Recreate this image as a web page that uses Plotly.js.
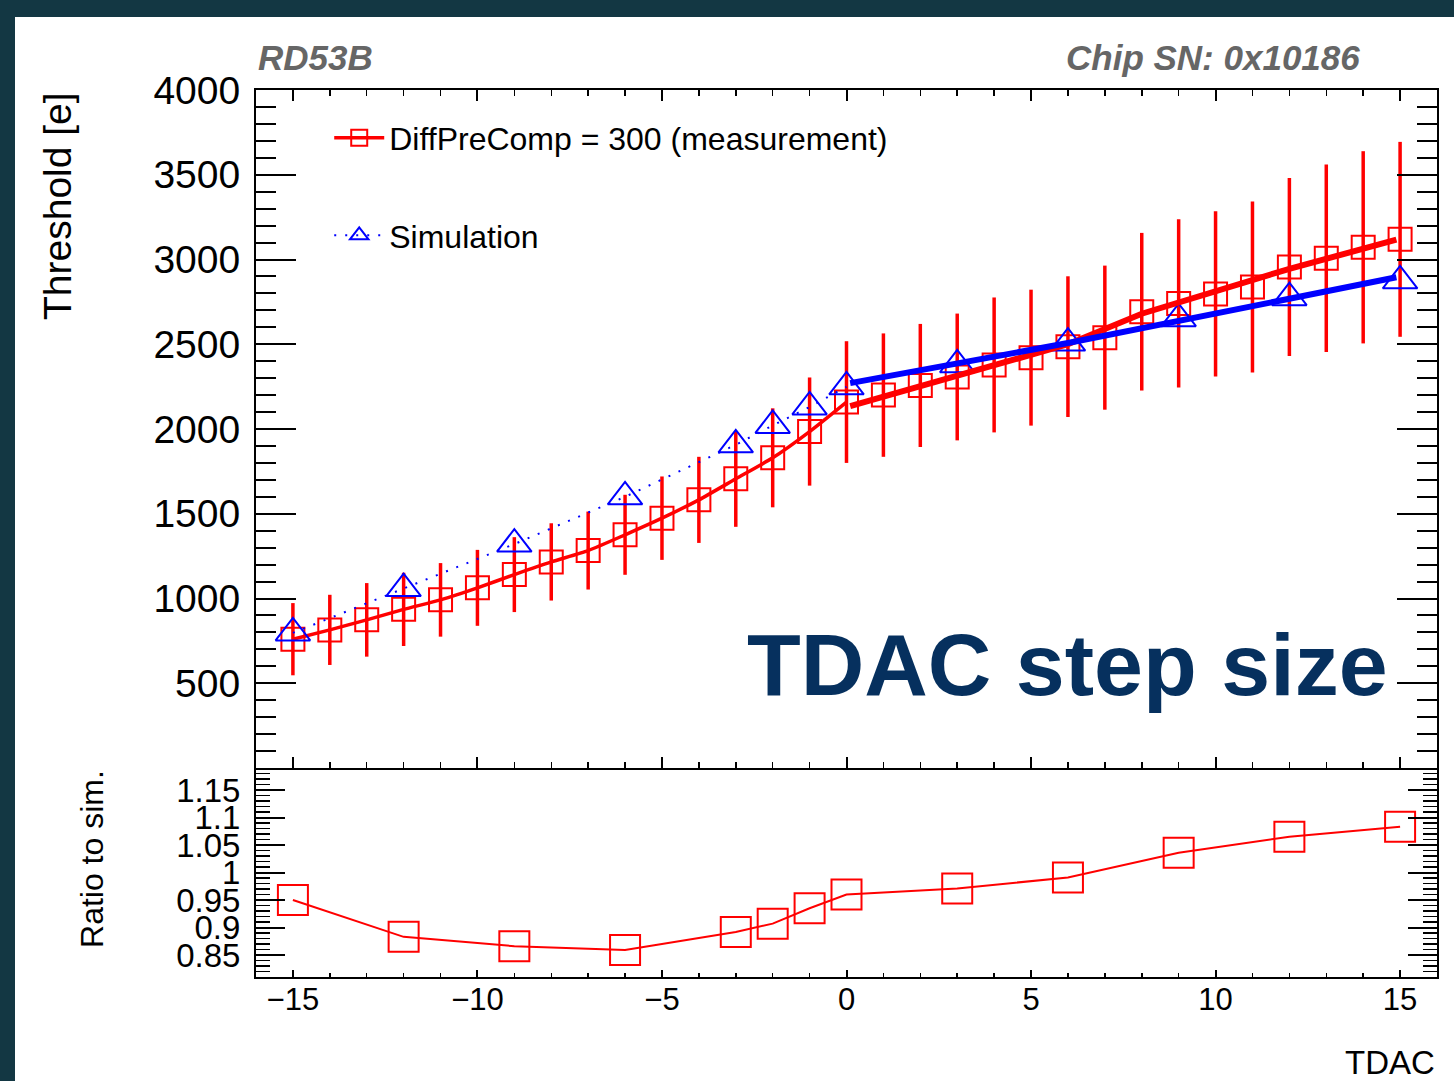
<!DOCTYPE html>
<html>
<head>
<meta charset="utf-8">
<script src="https://cdn.plot.ly/plotly-3.0.1.min.js"></script>
<style>
html,body{margin:0;padding:0;background:#133743;width:1454px;height:1081px;overflow:hidden;}
#chart{position:absolute;left:15px;top:17px;width:1439px;height:1064px;background:#ffffff;}
</style>
</head>
<body>
<div id="chart"></div>
<script>
// ---- data ----
const tdac = [-15,-14,-13,-12,-11,-10,-9,-8,-7,-6,-5,-4,-3,-2,-1,0,1,2,3,4,5,6,7,8,9,10,11,12,13,14,15];
const threshold = [760,815,874,936,992,1063,1141,1216,1283,1376,1474,1582,1706,1830,1985,2159,2200,2257,2307,2378,2421,2486,2539,2692,2741,2797,2838,2956,3007,3072,3119];
const thresholdErr = [213,207,217,216,217,224,221,228,230,236,246,254,283,292,319,359,364,363,374,398,401,415,425,465,496,487,504,525,553,567,575];

const simTdac = [-15,-12,-9,-6,-3,-2,-1,0,3,6,9,12,15];
const simThreshold = [797,1059,1321,1600,1907,2021,2130,2249,2379,2507,2651,2775,2874];

const ratioTdac = [-15,-12,-9,-6,-3,-2,-1,0,3,6,9,12,15];
const ratioToSim = [0.950,0.883,0.866,0.859,0.892,0.907,0.935,0.960,0.971,0.991,1.036,1.065,1.083];

const measFitX = [0.1,6,8,12,14.9];
const measFitY = [2135,2500,2680,2945,3117];
const simFitX = [0.1,6,14.9];
const simFitY = [2271,2507,2895];

const yTicks = [500,1000,1500,2000,2500,3000,3500,4000];
const xTicks = [-15,-10,-5,0,5,10,15];
const ratioTicks = [0.85,0.9,0.95,1,1.05,1.1,1.15];
const ratioTickText = ['0.85','0.9','0.95','1','1.05','1.1','1.15'];

const measName = 'DiffPreComp = 300 (measurement)';
const simName = 'Simulation';

// ---- helpers ----
function pick(xs, ys, cond){
  const ox=[], oy=[];
  xs.forEach((x,i)=>{ if(cond(x)){ ox.push(x); oy.push(ys[i]); } });
  return [ox, oy];
}
function pickErr(xs, es, cond){
  const oe=[];
  xs.forEach((x,i)=>{ if(cond(x)) oe.push(es[i]); });
  return oe;
}
const RED='#ff0000', BLUE='#0000ff';
const FONT='"Liberation Sans", Arial, Helvetica, sans-serif';

const [mxL, myL] = pick(tdac, threshold, x=>x<=0);
const [mxR, myR] = pick(tdac, threshold, x=>x>0);
const meL = pickErr(tdac, thresholdErr, x=>x<=0);
const meR = pickErr(tdac, thresholdErr, x=>x>0);
const [sxL, syL] = pick(simTdac, simThreshold, x=>x<=0);
const [sxR, syR] = pick(simTdac, simThreshold, x=>x>0);

const sqMarker = {symbol:'square-open', size:23, color:RED, line:{color:RED, width:2}};
const triMarker = {symbol:'triangle-up-open', size:30, color:BLUE, line:{color:BLUE, width:2}};
const errStyle = (arr)=>({type:'data', array:arr, visible:true, color:RED, thickness:3.5, width:0});

const traces = [
  {x:mxL, y:myL, name:measName, legendgroup:'m', type:'scatter', mode:'lines+markers',
   line:{color:RED, width:3.5, shape:'spline', smoothing:0.6}, marker:sqMarker, error_y:errStyle(meL),
   xaxis:'x', yaxis:'y'},
  {x:mxR, y:myR, name:measName, legendgroup:'m', showlegend:false, type:'scatter', mode:'markers',
   marker:sqMarker, error_y:errStyle(meR), xaxis:'x', yaxis:'y'},
  {x:sxL, y:syL, name:simName, legendgroup:'s', type:'scatter', mode:'lines+markers',
   line:{color:BLUE, width:2, dash:'2px,9px'}, marker:triMarker, xaxis:'x', yaxis:'y'},
  {x:sxR, y:syR, name:simName, legendgroup:'s', showlegend:false, type:'scatter', mode:'markers',
   marker:triMarker, xaxis:'x', yaxis:'y'},
  {x:measFitX, y:measFitY, showlegend:false, type:'scatter', mode:'lines',
   line:{color:RED, width:6}, xaxis:'x', yaxis:'y'},
  {x:simFitX, y:simFitY, showlegend:false, type:'scatter', mode:'lines',
   line:{color:BLUE, width:6}, xaxis:'x', yaxis:'y'},
  {x:ratioTdac, y:ratioToSim, showlegend:false, type:'scatter', mode:'lines+markers',
   line:{color:RED, width:2}, marker:{symbol:'square-open', size:30, color:RED, line:{color:RED, width:2}},
   xaxis:'x2', yaxis:'y2'}
];

const axBase = {showline:true, linecolor:'#000', linewidth:2, showgrid:false, zeroline:false,
  ticks:'inside', tickcolor:'#000', mirror:'allticks'};

const layout = {
  width:1439, height:1064,
  margin:{l:241, r:17, t:73, b:104},
  paper_bgcolor:'#ffffff', plot_bgcolor:'#ffffff',
  font:{family:FONT, color:'#000'},
  showlegend:true,
  legend:{x:0.062, y:0.977, xanchor:'left', yanchor:'top', bgcolor:'rgba(0,0,0,0)',
    font:{family:FONT, size:32, color:'#000'}, tracegroupgap:53, itemwidth:50, itemsizing:'trace'},
  xaxis:Object.assign({}, axBase, {domain:[0,1], anchor:'y', range:[-16,16], tickvals:xTicks,
    showticklabels:false, ticklen:11, tickwidth:2,
    minor:{dtick:1, tick0:0, ticklen:6, tickwidth:1.5, ticks:'inside', tickcolor:'#000'}}),
  yaxis:Object.assign({}, axBase, {domain:[0.2356,1], anchor:'x', range:[0,4000], tickvals:yTicks,
    ticklen:40, tickwidth:2, tickfont:{family:FONT, size:39, color:'#000'}, ticklabelstandoff:6,
    minor:{dtick:100, tick0:0, ticklen:20, tickwidth:2, ticks:'inside', tickcolor:'#000'}}),
  xaxis2:Object.assign({}, axBase, {domain:[0,1], anchor:'y2', matches:'x', range:[-16,16], tickvals:xTicks,
    mirror:false, ticklen:7, tickwidth:2, tickfont:{family:FONT, size:31, color:'#000'}, ticklabelstandoff:-6,
    minor:{dtick:1, tick0:0, ticklen:4, tickwidth:1.5, ticks:'inside', tickcolor:'#000'}}),
  yaxis2:Object.assign({}, axBase, {domain:[0,0.2356], anchor:'x2', range:[0.81,1.19],
    tickvals:ratioTicks, ticktext:ratioTickText, ticklen:29, tickwidth:2,
    tickfont:{family:FONT, size:33, color:'#000'}, ticklabelstandoff:7,
    minor:{dtick:0.01, tick0:0, ticklen:14, tickwidth:1.5, ticks:'inside', tickcolor:'#000'}}),
  annotations:[
    {text:'<b><i>RD53B</i></b>', xref:'paper', yref:'paper', x:0.0, y:1.037, xanchor:'left', yanchor:'middle',
     showarrow:false, font:{family:FONT, size:35, color:'#666666'}},
    {text:'<b><i>Chip SN: 0x10186</i></b>', xref:'paper', yref:'paper', x:0.9365, y:1.037, xanchor:'right', yanchor:'middle',
     showarrow:false, font:{family:FONT, size:35, color:'#666666'}},
    {text:'<b>TDAC step size</b>', xref:'paper', yref:'paper', x:0.9605, y:0.352, xanchor:'right', yanchor:'middle',
     showarrow:false, font:{family:FONT, size:88, color:'#06305e'}},
    {text:'Threshold [e]', xref:'paper', yref:'paper', x:-0.1685, y:1.0, xanchor:'center', yanchor:'top',
     textangle:-90, showarrow:false, font:{family:FONT, size:39, color:'#000'}},
    {text:'Ratio to sim.', xref:'paper', yref:'paper', x:-0.1389, y:0.2356, xanchor:'center', yanchor:'top',
     textangle:-90, showarrow:false, font:{family:FONT, size:32, color:'#000'}},
    {text:'TDAC', xref:'paper', yref:'paper', x:1.0, y:-0.096, xanchor:'right', yanchor:'middle',
     showarrow:false, font:{family:FONT, size:33, color:'#000'}}
  ]
};

Plotly.newPlot('chart', traces, layout, {displayModeBar:false, staticPlot:true});
</script>
</body>
</html>
